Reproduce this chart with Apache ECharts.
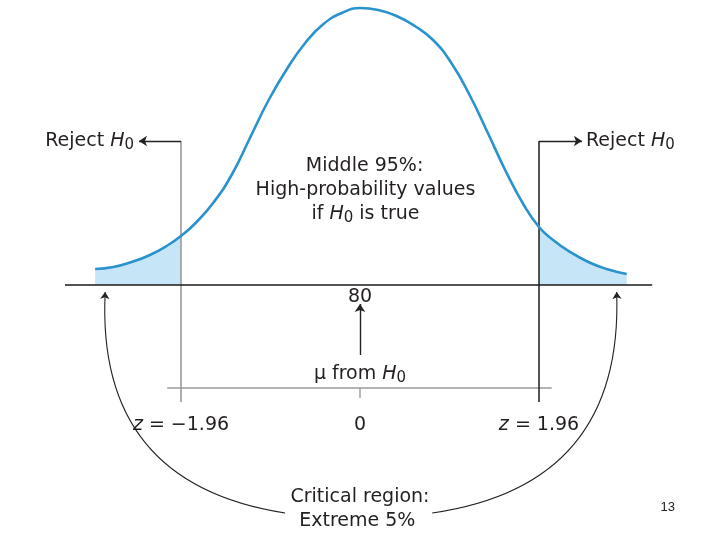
<!DOCTYPE html>
<html><head><meta charset="utf-8">
<script src="https://cdn.jsdelivr.net/npm/echarts@6/dist/echarts.min.js"></script>
<style>html,body{margin:0;padding:0;background:#fff}#c{width:720px;height:540px}</style>
</head><body><div id="c"></div>
<script>
// Curve: z position and relative height above the baseline
const curveZ = [-2.90,-2.70,-2.50,-2.30,-2.10,-1.96,-1.80,-1.60,-1.40,-1.20,-1.00,-0.80,-0.60,-0.40,-0.20,0.00,0.20,0.40,0.60,0.80,1.00,1.20,1.40,1.60,1.80,1.96,2.10,2.30,2.50,2.70,2.92];
const curveH = [16,18,23,30,40,49,62,83,111,148,185,216,242,261,272,277,275,269,259,245,222,190,152,113,79,58,46,33,23,16,11];
const criticalZ = [-1.96, 1.96];
const meanZ = 0;
const zTickLabels = ['−1.96', '0', '1.96'];
const meanScoreLabel = '80';
const pageNumber = '13';

const FONT = 'DejaVu Sans';
const TXT = '#231f20';
const rich = {
  t: {fontSize: 19, fontFamily: FONT, color: TXT, lineHeight: 24},
  i: {fontSize: 19, fontFamily: FONT, color: TXT, fontStyle: 'italic', lineHeight: 24},
  s: {fontSize: 15, fontFamily: FONT, color: TXT, lineHeight: 11, verticalAlign: 'bottom'}
};

const curve = curveZ.map((z, k) => [z, curveH[k]]);
const leftTail = curve.filter(p => p[0] <= criticalZ[0]);
const rightTail = curve.filter(p => p[0] >= criticalZ[1]);

// annotation layout (data coordinates: z, height)
const L = {
  baseTop: 144, lineBottom: -117, lowerAxis: -103, midTickBottom: -113,
  rejectArrowL: -2.42, rejectArrowR: 2.43,
  axisLeft: -3.23, axisRight: 3.20, lowerLeft: -2.11, lowerRight: 2.10,
  meanArrowFrom: -70, meanArrowTo: -19
};

function lab(z, h, fmt) {
  return {value: [z, h], label: {show: true, position: 'inside', formatter: fmt, rich: rich}};
}
const labels = [
  lab(-2.96, 144, '{t|Reject }{i|H}{s|0}'),
  lab(2.96, 144, '{t|Reject }{i|H}{s|0}'),
  lab(0.05, 119, '{t|Middle 95%:}'),
  lab(0.06, 95, '{t|High-probability values}'),
  lab(0.06, 71, '{t|if }{i|H}{s|0}{t| is true}'),
  lab(meanZ, -12, '{t|' + meanScoreLabel + '}'),
  lab(meanZ, -89, '{t|μ from }{i|H}{s|0}'),
  lab(criticalZ[0], -140, '{i|z}{t| = ' + zTickLabels[0] + '}'),
  lab(meanZ, -140, '{t|' + zTickLabels[1] + '}'),
  lab(criticalZ[1], -140, '{i|z}{t| = ' + zTickLabels[2] + '}'),
  lab(0, -212, '{t|Critical region:}'),
  lab(-0.03, -236, '{t|Extreme 5%}'),
  {value: [3.37, -222], label: {show: true, position: 'inside', formatter: pageNumber, fontSize: 13, fontFamily: 'Liberation Sans', color: '#222'}}
];

const chart = echarts.init(document.getElementById('c'), null, {renderer: 'canvas'});
chart.setOption({
  animation: false,
  grid: {left: 0, right: 0, top: 0, bottom: 0},
  xAxis: {type: 'value', min: -3.9417, max: 3.9417, show: false},
  yAxis: {type: 'value', min: -255, max: 285, show: false},
  series: [
    {type: 'line', data: leftTail, smooth: 0.5, symbol: 'none', lineStyle: {width: 0}, areaStyle: {color: '#c6e6f8', opacity: 1}, z: 1},
    {type: 'line', data: rightTail, smooth: 0.5, symbol: 'none', lineStyle: {width: 0}, areaStyle: {color: '#c6e6f8', opacity: 1}, z: 1},
    {type: 'line', data: curve, smooth: 0.5, symbol: 'none', lineStyle: {color: '#2a92cc', width: 2.6}, z: 5},
    // baseline
    {type: 'line', data: [[L.axisLeft, 0], [L.axisRight, 0]], symbol: 'none', lineStyle: {color: '#1a1a1a', width: 1.6}, z: 4},
    // lower gray z axis
    {type: 'line', data: [[L.lowerLeft, L.lowerAxis], [L.lowerRight, L.lowerAxis]], symbol: 'none', lineStyle: {color: '#9a9a9a', width: 1.4}, z: 2},
    {type: 'line', data: [[meanZ, L.lowerAxis], [meanZ, L.midTickBottom]], symbol: 'none', lineStyle: {color: '#9a9a9a', width: 1.4}, z: 2},
    // critical vertical lines
    {type: 'line', data: [[criticalZ[0], L.lineBottom], [criticalZ[0], L.baseTop]], symbol: 'none', lineStyle: {color: '#9a9a9a', width: 1.6}, z: 3},
    {type: 'line', data: [[criticalZ[1], L.lineBottom], [criticalZ[1], L.baseTop]], symbol: 'none', lineStyle: {color: '#2a2a2a', width: 1.6}, z: 3},
    // reject arrows and mean arrow
    {type: 'lines', coordinateSystem: 'cartesian2d', symbol: ['none', 'arrow'], symbolSize: 8,
     lineStyle: {color: '#222', width: 1.4, opacity: 1}, z: 6,
     data: [
       {coords: [[criticalZ[0], L.baseTop], [L.rejectArrowL, L.baseTop]]},
       {coords: [[criticalZ[1], L.baseTop], [L.rejectArrowR, L.baseTop]]},
       {coords: [[meanZ, L.meanArrowFrom], [meanZ, L.meanArrowTo]]}
     ]},
    // curved arrows to critical regions
    {type: 'lines', coordinateSystem: 'cartesian2d', symbol: ['none', 'arrow'], symbolSize: 7, z: 6,
     data: [
       {coords: [[-0.82, -228], [-2.79, -7]], lineStyle: {color: '#222', width: 1.1, curveness: 0.45, opacity: 1}},
       {coords: [[0.79, -228], [2.81, -7]], lineStyle: {color: '#222', width: 1.1, curveness: -0.45, opacity: 1}}
     ]},
    {type: 'scatter', data: labels, symbolSize: 0, z: 10, silent: true, itemStyle: {opacity: 1}}
  ]
});
</script></body></html>
